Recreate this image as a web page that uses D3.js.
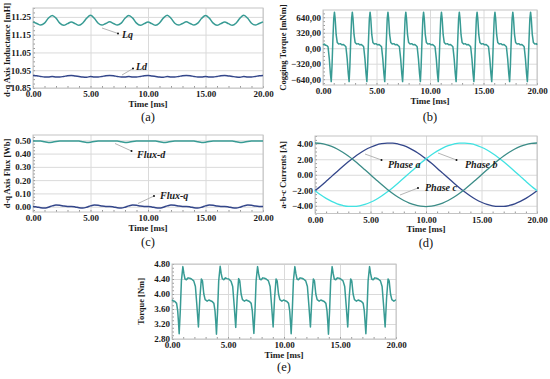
<!DOCTYPE html>
<html><head><meta charset="utf-8">
<script src="https://cdn.jsdelivr.net/npm/d3@7"></script>
<style>body{margin:0;background:#fff}svg{display:block}</style>
</head><body>
<svg id="c" width="550" height="379"></svg>
<script>
// ---------- DATA ----------
const xTicks = [0, 5, 10, 15, 20];

const timeA = [0,0.33,0.67,1,1.33,1.67,2,2.33,2.67,3,3.33,3.67,4,4.33,4.67,5,5.33,5.67,6,6.33,6.67,7,7.33,7.67,8,8.33,8.67,9,9.33,9.67,10,10.33,10.67,11,11.33,11.67,12,12.33,12.67,13,13.33,13.67,14,14.33,14.67,15,15.33,15.67,16,16.33,16.67,17,17.33,17.67,18,18.33,18.67,19,19.33,19.67,20];

const lq = [11.222,11.213,11.204,11.215,11.242,11.258,11.243,11.215,11.203,11.212,
11.221,11.212,11.203,11.216,11.243,11.259,11.242,11.214,11.204,11.213,
11.222,11.213,11.204,11.215,11.242,11.258,11.243,11.215,11.203,11.212,
11.221,11.212,11.203,11.216,11.243,11.259,11.242,11.214,11.204,11.213,
11.222,11.213,11.204,11.215,11.242,11.258,11.243,11.215,11.203,11.212,
11.221,11.212,11.203,11.216,11.243,11.259,11.242,11.214,11.204,11.213,
11.222];

const ld = [10.921,10.919,10.915,10.912,10.912,10.914,10.912,10.912,10.915,10.919,
10.921,10.918,10.915,10.912,10.911,10.914,10.912,10.912,10.915,10.919,
10.921,10.919,10.915,10.912,10.912,10.914,10.912,10.912,10.915,10.919,
10.921,10.918,10.915,10.912,10.911,10.914,10.912,10.912,10.915,10.919,
10.921,10.919,10.915,10.912,10.912,10.914,10.912,10.912,10.915,10.919,
10.921,10.918,10.915,10.912,10.911,10.914,10.912,10.912,10.915,10.919,
10.921];

const fluxD = [0.494,0.495,0.494,0.489,0.484,0.486,0.491,0.494,0.495,0.495,
0.494,0.495,0.494,0.489,0.484,0.486,0.491,0.494,0.495,0.495,
0.494,0.495,0.494,0.489,0.484,0.486,0.491,0.494,0.495,0.495,
0.494,0.495,0.494,0.489,0.484,0.486,0.491,0.494,0.495,0.495,
0.494,0.495,0.494,0.489,0.484,0.486,0.491,0.494,0.495,0.495,
0.494,0.495,0.494,0.489,0.484,0.486,0.491,0.494,0.495,0.495,
0.494];

const fluxQ = [0.002,-0.002,-0.008,-0.010,-0.004,0.006,0.012,0.011,0.005,0.002,
0.002,-0.002,-0.008,-0.010,-0.004,0.006,0.012,0.011,0.005,0.002,
0.002,-0.002,-0.008,-0.010,-0.004,0.006,0.012,0.011,0.005,0.002,
0.002,-0.002,-0.008,-0.010,-0.004,0.006,0.012,0.011,0.005,0.002,
0.002,-0.002,-0.008,-0.010,-0.004,0.006,0.012,0.011,0.005,0.002,
0.002,-0.002,-0.008,-0.010,-0.004,0.006,0.012,0.011,0.005,0.002,
0.002];

const timeD = [0,0.5,1,1.5,2,2.5,3,3.5,4,4.5,5,5.5,6,6.5,7,7.5,8,8.5,9,9.5,10,10.5,11,11.5,12,12.5,13,13.5,14,14.5,15,15.5,16,16.5,17,17.5,18,18.5,19,19.5,20];
const phaseA = [-2.05,-1.47,-0.85,-0.21,0.43,1.06,1.67,2.23,2.74,3.19,3.55,3.83,4.01,4.09,4.08,3.96,3.75,3.44,3.05,2.58,2.05,1.47,0.85,0.21,-0.43,-1.06,-1.67,-2.23,-2.74,-3.19,-3.55,-3.83,-4.01,-4.09,-4.08,-3.96,-3.75,-3.44,-3.05,-2.58,-2.05];
const phaseB = [-2.05,-2.58,-3.05,-3.44,-3.75,-3.96,-4.08,-4.09,-4.01,-3.83,-3.55,-3.19,-2.74,-2.23,-1.67,-1.06,-0.43,0.21,0.85,1.47,2.05,2.58,3.05,3.44,3.75,3.96,4.08,4.09,4.01,3.83,3.55,3.19,2.74,2.23,1.67,1.06,0.43,-0.21,-0.85,-1.47,-2.05];
const phaseC = [4.10,4.05,3.90,3.65,3.32,2.90,2.41,1.86,1.27,0.64,0,-0.64,-1.27,-1.86,-2.41,-2.90,-3.32,-3.65,-3.90,-4.05,-4.10,-4.05,-3.90,-3.65,-3.32,-2.90,-2.41,-1.86,-1.27,-0.64,0,0.64,1.27,1.86,2.41,2.90,3.32,3.65,3.90,4.05,4.10];

// cogging torque [ms, mNm]
const coggingTorque = [[0,70],[0.12,85],[0.25,60],[0.35,55],
[0.47,30],[0.59,-220],[0.69,-520],[0.77,-690],[0.84,-380],[0.92,150],[1.00,600],[1.07,745],[1.14,600],[1.23,280],[1.33,120],[1.47,85],[1.62,95],[1.77,70],[1.92,75],[2.05,50],
[2.14,30],[2.26,-220],[2.36,-520],[2.44,-690],[2.51,-380],[2.59,150],[2.67,600],[2.74,745],[2.81,600],[2.90,280],[3.00,120],[3.14,85],[3.29,95],[3.44,70],[3.59,75],[3.72,50],
[3.80,30],[3.92,-220],[4.02,-520],[4.10,-690],[4.17,-380],[4.25,150],[4.33,600],[4.40,745],[4.47,600],[4.56,280],[4.66,120],[4.80,85],[4.95,95],[5.10,70],[5.25,75],[5.38,50],
[5.47,30],[5.59,-220],[5.69,-520],[5.77,-690],[5.84,-380],[5.92,150],[6.00,600],[6.07,745],[6.14,600],[6.23,280],[6.33,120],[6.47,85],[6.62,95],[6.77,70],[6.92,75],[7.05,50],
[7.14,30],[7.26,-220],[7.36,-520],[7.44,-690],[7.51,-380],[7.59,150],[7.67,600],[7.74,745],[7.81,600],[7.90,280],[8.00,120],[8.14,85],[8.29,95],[8.44,70],[8.59,75],[8.72,50],
[8.80,30],[8.92,-220],[9.02,-520],[9.10,-690],[9.17,-380],[9.25,150],[9.33,600],[9.40,745],[9.47,600],[9.56,280],[9.66,120],[9.80,85],[9.95,95],[10.10,70],[10.25,75],[10.38,50],
[10.47,30],[10.59,-220],[10.69,-520],[10.77,-690],[10.84,-380],[10.92,150],[11.00,600],[11.07,745],[11.14,600],[11.23,280],[11.33,120],[11.47,85],[11.62,95],[11.77,70],[11.92,75],[12.05,50],
[12.14,30],[12.26,-220],[12.36,-520],[12.44,-690],[12.51,-380],[12.59,150],[12.67,600],[12.74,745],[12.81,600],[12.90,280],[13.00,120],[13.14,85],[13.29,95],[13.44,70],[13.59,75],[13.72,50],
[13.80,30],[13.92,-220],[14.02,-520],[14.10,-690],[14.17,-380],[14.25,150],[14.33,600],[14.40,745],[14.47,600],[14.56,280],[14.66,120],[14.80,85],[14.95,95],[15.10,70],[15.25,75],[15.38,50],
[15.47,30],[15.59,-220],[15.69,-520],[15.77,-690],[15.84,-380],[15.92,150],[16.00,600],[16.07,745],[16.14,600],[16.23,280],[16.33,120],[16.47,85],[16.62,95],[16.77,70],[16.92,75],[17.05,50],
[17.14,30],[17.26,-220],[17.36,-520],[17.44,-690],[17.51,-380],[17.59,150],[17.67,600],[17.74,745],[17.81,600],[17.90,280],[18.00,120],[18.14,85],[18.29,95],[18.44,70],[18.59,75],[18.72,50],
[18.80,30],[18.92,-220],[19.02,-520],[19.10,-690],[19.17,-380],[19.25,150],[19.33,600],[19.40,745],[19.47,600],[19.56,280],[19.66,120],[19.80,85],[19.95,95],[20.00,70]];

// electromagnetic torque [ms, Nm]
const torque = [[0,3.84],[0.11,3.82],[0.26,3.80],[0.41,3.75],[0.51,3.55],[0.59,3.20],
[0.64,2.94],[0.74,3.55],[0.84,4.35],[0.97,4.73],[1.06,4.55],[1.16,4.40],[1.29,4.38],[1.44,4.43],[1.59,4.42],[1.74,4.40],[1.94,4.35],[2.09,4.20],[2.22,3.70],[2.36,3.12],[2.49,3.90],[2.62,4.40],[2.72,4.35],[2.84,4.00],[2.96,3.85],[3.14,3.81],[3.29,3.84],[3.44,3.82],[3.59,3.80],[3.74,3.75],[3.84,3.55],[3.92,3.20],
[3.97,2.93],[4.07,3.55],[4.17,4.35],[4.30,4.74],[4.39,4.55],[4.49,4.41],[4.62,4.38],[4.77,4.43],[4.92,4.41],[5.07,4.40],[5.27,4.34],[5.42,4.20],[5.55,3.70],[5.69,3.11],[5.82,3.90],[5.95,4.41],[6.05,4.35],[6.17,4.00],[6.29,3.85],[6.47,3.81],[6.62,3.84],[6.77,3.82],[6.92,3.80],[7.07,3.75],[7.17,3.55],[7.25,3.20],
[7.31,2.95],[7.41,3.55],[7.51,4.35],[7.64,4.73],[7.73,4.55],[7.83,4.40],[7.96,4.38],[8.11,4.43],[8.26,4.42],[8.41,4.40],[8.61,4.35],[8.76,4.20],[8.89,3.70],[9.03,3.12],[9.16,3.90],[9.29,4.40],[9.39,4.35],[9.51,4.00],[9.63,3.85],[9.81,3.81],[9.96,3.84],[10.11,3.82],[10.26,3.80],[10.41,3.75],[10.51,3.55],[10.59,3.20],
[10.64,2.94],[10.74,3.55],[10.84,4.35],[10.97,4.73],[11.06,4.55],[11.16,4.40],[11.29,4.38],[11.44,4.43],[11.59,4.42],[11.74,4.40],[11.94,4.35],[12.09,4.20],[12.22,3.70],[12.36,3.12],[12.49,3.90],[12.62,4.40],[12.72,4.35],[12.84,4.00],[12.96,3.85],[13.14,3.81],[13.29,3.84],[13.44,3.82],[13.59,3.80],[13.74,3.75],[13.84,3.55],[13.92,3.20],
[13.97,2.93],[14.07,3.55],[14.17,4.35],[14.30,4.73],[14.39,4.55],[14.49,4.40],[14.62,4.38],[14.77,4.43],[14.92,4.42],[15.07,4.40],[15.27,4.35],[15.42,4.20],[15.55,3.70],[15.69,3.12],[15.82,3.90],[15.95,4.40],[16.05,4.35],[16.17,4.00],[16.29,3.85],[16.47,3.81],[16.62,3.84],[16.77,3.82],[16.92,3.80],[17.07,3.75],[17.17,3.55],[17.25,3.20],
[17.31,2.94],[17.41,3.55],[17.51,4.35],[17.64,4.73],[17.73,4.55],[17.83,4.40],[17.96,4.38],[18.11,4.43],[18.26,4.42],[18.41,4.40],[18.61,4.35],[18.76,4.20],[18.89,3.70],[19.03,3.12],[19.16,3.90],[19.29,4.40],[19.39,4.35],[19.51,4.00],[19.63,3.85],[19.81,3.81],[19.96,3.84],[20,3.84]];

const ticksA = [10.85, 10.95, 11.05, 11.15, 11.25];
const ticksB = [-640, -320, 0, 320, 640];
const ticksC = [0, 0.1, 0.2, 0.3, 0.4, 0.5];
const ticksD = [-4, -2, 0, 2, 4];
const ticksE = [2.8, 3.2, 3.6, 4.0, 4.4, 4.8];

// ---------- DRAWING ----------
const SERIF = '"Liberation Serif","Times New Roman",serif';
const TEAL = '#389b94', NAVY = '#33468a', CYAN = '#41e2e2', PC = '#3b8c87';
const FS = 9, FT = 8.5;
const svg = d3.select('#c');
const zip = (t, v) => t.map((d, i) => [d, v[i]]);

function panel(p) {
  const x = d3.scaleLinear().domain([0, 20]).range([p.x0, p.x1]);
  const y = d3.scaleLinear().domain(p.yDomain).range([p.y1, p.y0]);
  const g = svg.append('g');
  const W = p.x1 - p.x0, H = p.y1 - p.y0;

  g.append('g').attr('transform', `translate(0,${p.y1})`)
    .call(d3.axisBottom(x).tickValues(xTicks).tickSize(-H).tickFormat(''))
    .call(s => { s.select('.domain').remove(); s.selectAll('line').attr('stroke', '#dadada'); });
  g.append('g').attr('transform', `translate(${p.x0},0)`)
    .call(d3.axisLeft(y).tickValues(p.yTicks).tickSize(-W).tickFormat(''))
    .call(s => { s.select('.domain').remove(); s.selectAll('line').attr('stroke', '#dadada'); });
  g.append('g').attr('transform', `translate(0,${p.y1})`)
    .call(d3.axisBottom(x).tickValues(d3.range(0, 20.001, 1)).tickSize(-2).tickFormat(''))
    .call(s => { s.select('.domain').remove(); s.selectAll('line').attr('stroke', '#999'); });
  g.append('g').attr('transform', `translate(${p.x0},0)`)
    .call(d3.axisLeft(y).tickValues(p.minorY).tickSize(-2).tickFormat(''))
    .call(s => { s.select('.domain').remove(); s.selectAll('line').attr('stroke', '#999'); });

  g.append('rect').attr('x', p.x0).attr('y', p.y0).attr('width', W).attr('height', H)
    .attr('fill', 'none').attr('stroke', '#c4c4c4').attr('stroke-width', 1);

  const line = d3.line().x(d => x(d[0])).y(d => y(d[1])).curve(p.curve || d3.curveMonotoneX);
  p.series.forEach(s => {
    g.append('path').datum(s.data).attr('d', line).attr('fill', 'none')
      .attr('stroke', s.color).attr('stroke-width', s.w || 1.5).attr('stroke-linejoin', 'round');
  });

  const xa = g.append('g').attr('transform', `translate(0,${p.y1})`)
    .call(d3.axisBottom(x).tickValues(xTicks).tickFormat(d3.format('.2f')).tickSize(0).tickPadding(3));
  xa.select('.domain').remove();
  xa.attr('font-family', SERIF).attr('font-size', FS).attr('font-weight', 'bold');
  xa.selectAll('text').attr('fill', '#1a1a1a');

  const ya = g.append('g').attr('transform', `translate(${p.x0},0)`)
    .call(d3.axisLeft(y).tickValues(p.yTicks).tickFormat(p.yFmt).tickSize(0).tickPadding(2));
  ya.select('.domain').remove();
  ya.attr('font-family', SERIF).attr('font-size', FS).attr('font-weight', 'bold');
  ya.selectAll('text').attr('fill', '#1a1a1a');

  g.append('text').attr('x', (p.x0 + p.x1) / 2).attr('y', p.y1 + 18.5).attr('text-anchor', 'middle')
    .attr('font-family', SERIF).attr('font-size', FS).attr('font-weight', 'bold').attr('fill', '#1a1a1a')
    .text('Time [ms]');
  g.append('text').attr('transform', `translate(${p.titleX},${p.titleY || (p.y0 + p.y1) / 2}) rotate(-90)`)
    .attr('text-anchor', 'middle').attr('dy', '0.35em')
    .attr('font-family', SERIF).attr('font-size', FT).attr('font-weight', 'bold').attr('fill', '#1a1a1a')
    .text(p.yTitle);
  g.append('text').attr('x', (p.x0 + p.x1) / 2).attr('y', p.labelY).attr('text-anchor', 'middle')
    .attr('font-family', SERIF).attr('font-size', 12.5).attr('fill', '#111').text(p.label);

  (p.notes || []).forEach(n => {
    g.append('line').attr('x1', n.from[0]).attr('y1', n.from[1]).attr('x2', n.to[0]).attr('y2', n.to[1])
      .attr('stroke', '#b5b5b5').attr('stroke-width', 1);
    g.append('circle').attr('cx', n.to[0]).attr('cy', n.to[1]).attr('r', 1).attr('fill', '#111');
    g.append('text').attr('x', n.tx).attr('y', n.ty).attr('font-family', SERIF).attr('font-size', 10)
      .attr('font-weight', 'bold').attr('font-style', 'italic').attr('fill', '#1a1a1a').text(n.text);
  });
}

const f2 = d3.format('.2f');
const fComma = d => f2(d).replace('.', ',');

panel({ x0: 33, x1: 263, y0: 8, y1: 88, yDomain: [10.85, 11.30], yTicks: ticksA, yFmt: f2,
  minorY: d3.range(10.85, 11.30, 0.025),
  series: [{ data: zip(timeA, lq), color: TEAL }, { data: zip(timeA, ld), color: NAVY }],
  titleX: 7, titleY: 50, yTitle: 'd-q Axis Inductance [mH]', label: '(a)', labelY: 121,
  notes: [{ from: [102, 28], to: [118, 33.5], tx: 122, ty: 38, text: 'Lq' },
          { from: [122, 75], to: [133, 68.5], tx: 136, ty: 70, text: 'Ld' }] });

panel({ x0: 323, x1: 537, y0: 10, y1: 85, yDomain: [-760, 790], yTicks: ticksB, yFmt: fComma,
  minorY: d3.range(-720, 790, 80), curve: d3.curveLinear,
  series: [{ data: coggingTorque, color: TEAL }],
  titleX: 283, yTitle: 'Cogging Torque [mNm]', label: '(b)', labelY: 121 });

panel({ x0: 33, x1: 263, y0: 135, y1: 212, yDomain: [-0.04, 0.54], yTicks: ticksC, yFmt: f2,
  minorY: d3.range(-0.025, 0.54, 0.025),
  series: [{ data: zip(timeA, fluxD), color: TEAL }, { data: zip(timeA, fluxQ), color: NAVY }],
  titleX: 7, yTitle: 'd-q Axis Flux [Wb]', label: '(c)', labelY: 246,
  notes: [{ from: [115, 143.5], to: [131.5, 151], tx: 137, ty: 157.5, text: 'Flux-d' },
          { from: [138, 203.5], to: [154, 196], tx: 160, ty: 199, text: 'Flux-q' }] });

panel({ x0: 315, x1: 537, y0: 136, y1: 213.5, yDomain: [-5, 5], yTicks: ticksD, yFmt: f2,
  minorY: d3.range(-5, 5.01, 0.5),
  series: [{ data: zip(timeD, phaseA), color: NAVY, w: 1.3 }, { data: zip(timeD, phaseB), color: CYAN, w: 1.3 },
           { data: zip(timeD, phaseC), color: PC, w: 1.3 }],
  titleX: 283, yTitle: 'a-b-c Currents [A]', label: '(d)', labelY: 247,
  notes: [{ from: [365, 154], to: [381.5, 160], tx: 388, ty: 168, text: 'Phase a' },
          { from: [438, 153], to: [456.5, 160], tx: 465, ty: 168, text: 'Phase b' },
          { from: [400, 195], to: [418, 188], tx: 425, ty: 191, text: 'Phase c' }] });

panel({ x0: 172, x1: 396, y0: 264, y1: 339, yDomain: [2.8, 4.8], yTicks: ticksE, yFmt: f2,
  minorY: d3.range(2.8, 4.81, 0.1), curve: d3.curveLinear,
  series: [{ data: torque, color: TEAL }],
  titleX: 141, yTitle: 'Torque [Nm]', label: '(e)', labelY: 371 });
</script>
</body></html>
